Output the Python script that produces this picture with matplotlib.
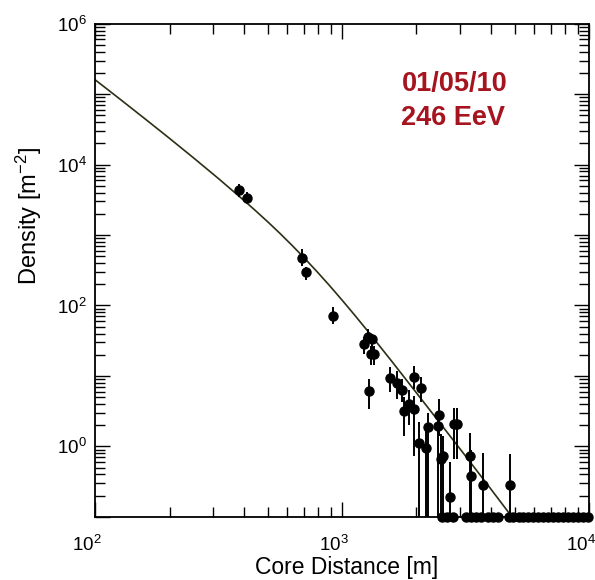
import math
import matplotlib
matplotlib.use('Agg')
import matplotlib.pyplot as plt
from matplotlib.ticker import LogLocator, FuncFormatter, NullFormatter
from matplotlib.transforms import ScaledTranslation

# detector hits: core distance [m], density [m^-2], error bar ends
r_hit = [381, 412, 686, 714, 915, 1222, 1271, 1327, 1312, 1349, 1280, 1567, 1674,
         1743, 1787, 1867, 1955, 1955, 2080, 2220, 2055, 2189, 2473, 2449, 2511,
         2550, 2832, 2925, 2735, 3282, 3322, 3704, 4802]
rho_hit = [4400, 3350, 479, 297, 72, 28.3, 35.2, 33, 20.8, 20.8, 6.1, 9.2, 8.0,
           6.4, 3.2, 4.0, 9.7, 3.4, 6.7, 1.9, 1.1, 0.94, 2.8, 1.95, 0.66,
           0.73, 2.08, 2.06, 0.194, 0.73, 0.381, 0.284, 0.284]
rho_hi = [5300, 4060, 637, 354, 95, 35.7, 46, 40, 27, 27, 8.9, 13.2, 11.8,
          8.9, 5.1, 6.3, 13.7, 5.2, 9.8, 3.0, 2.2, 1.7, 4.7, 3.2, 1.48,
          1.4, 3.5, 3.5, 0.6, 1.55, 0.9, 0.81, 0.78]
rho_lo = [3430, 2830, 369, 232, 54, 20.7, 29.5, 23, 14.4, 14.4, 3.35, 5.9, 4.7,
          4.3, 1.38, 2.0, 6.5, 0.74, 4.2, 0.01, 0.01, 0.01, 1.4, 0.01, 0.01,
          0.01, 0.66, 0.66, 0.01, 0.01, 0.01, 0.01, 0.01]

# detectors with no signal, drawn on the lower edge
r_zero = [2541, 2649, 2800, 3162, 3311, 3472, 3640, 3884, 4071, 4266, 4728, 4912,
          5192, 5395, 5653, 5921, 6204, 6503, 6813, 7140, 7482, 7840, 8214, 8610,
          9022, 9454, 9908]

# lateral distribution fit
r_fit = [100, 125.9, 158.5, 199.5, 251.2, 316.2, 398.1, 446.7, 501.2, 562.3,
         631.0, 707.9, 794.3, 891.3, 1000, 1122, 1259, 1585, 1995, 2512, 3162,
         3981, 5012]
rho_fit = [1.6e5, 85310, 45190, 23770, 12330, 6310, 3155, 2208, 1528, 1042,
           698, 460, 298, 190, 119, 73.6, 44.9, 16.3, 5.81, 2.06, 0.728,
           0.254, 0.0875]

event_date = "01/05/10"
event_energy = "246 EeV"

plt.rcParams['font.family'] = 'Liberation Sans'
plt.rcParams['mathtext.fontset'] = 'custom'
plt.rcParams['mathtext.rm'] = 'Liberation Sans'
plt.rcParams['mathtext.it'] = 'Liberation Sans:italic'
plt.rcParams['mathtext.bf'] = 'Liberation Sans:bold'

fig, ax = plt.subplots(figsize=(5.95, 5.8), dpi=100)
fig.subplots_adjust(left=0.160, right=0.990, bottom=0.109, top=0.959)

ax.set_xscale('log')
ax.set_yscale('log')
ax.set_xlim(100, 1e4)
ax.set_ylim(0.1, 1e6)

ax.plot(r_fit, rho_fit, c='#2e2e14', lw=1.2)

yerr = [[v - lo for v, lo in zip(rho_hit, rho_lo)],
        [hi - v for v, hi in zip(rho_hit, rho_hi)]]
ax.errorbar(r_hit, rho_hit, yerr=yerr, fmt='o', c='black', ms=6.5,
            elinewidth=1.4, capsize=0)
ax.plot(r_zero, [0.1] * len(r_zero), 'o', c='black', ms=6.5, clip_on=False)

# ticks on every side, pointing in, labels on even decades only
ax.set_xticks([1e2, 1e3, 1e4])
ax.xaxis.set_minor_locator(LogLocator(base=10, subs=range(2, 10), numticks=20))
ax.yaxis.set_major_locator(LogLocator(base=10, numticks=20))
ax.yaxis.set_minor_locator(LogLocator(base=10, subs=range(2, 10), numticks=40))
ax.xaxis.set_minor_formatter(NullFormatter())
ax.yaxis.set_minor_formatter(NullFormatter())


def even_decades(v, pos):
    e = int(round(math.log10(v)))
    if e % 2 == 0 and e >= 0:
        return r'$\mathdefault{10^{%d}}$' % e
    return ''


ax.yaxis.set_major_formatter(FuncFormatter(even_decades))
ax.tick_params(which='both', direction='in', top=True, right=True, width=1)
ax.tick_params(which='major', length=11, labelsize=13.5)
ax.tick_params(which='minor', length=7)
ax.tick_params(axis='x', which='major', pad=13)
ax.tick_params(axis='y', which='major', pad=6)
for s in ax.spines.values():
    s.set_linewidth(1.3)

# x tick labels sit a little left of their ticks
shift = ScaledTranslation(-8 / 100, 0, fig.dpi_scale_trans)
for lab in ax.get_xticklabels():
    lab.set_transform(lab.get_transform() + shift)

ax.set_xlabel("Core Distance [m]", fontsize=16.5)
ax.set_ylabel("Density [m$^{-2}$]", fontsize=17)
ax.xaxis.set_label_coords(0.51, -0.079)
ax.yaxis.set_label_coords(-0.103, 0.61)

ax.text(0.62, 0.877, event_date, transform=ax.transAxes, fontsize=19.5,
        fontweight='bold', color='#a5141f', va='center')
ax.text(0.62, 0.808, event_energy, transform=ax.transAxes, fontsize=19.5,
        fontweight='bold', color='#a5141f', va='center')

fig.savefig('out.png', dpi=100)
